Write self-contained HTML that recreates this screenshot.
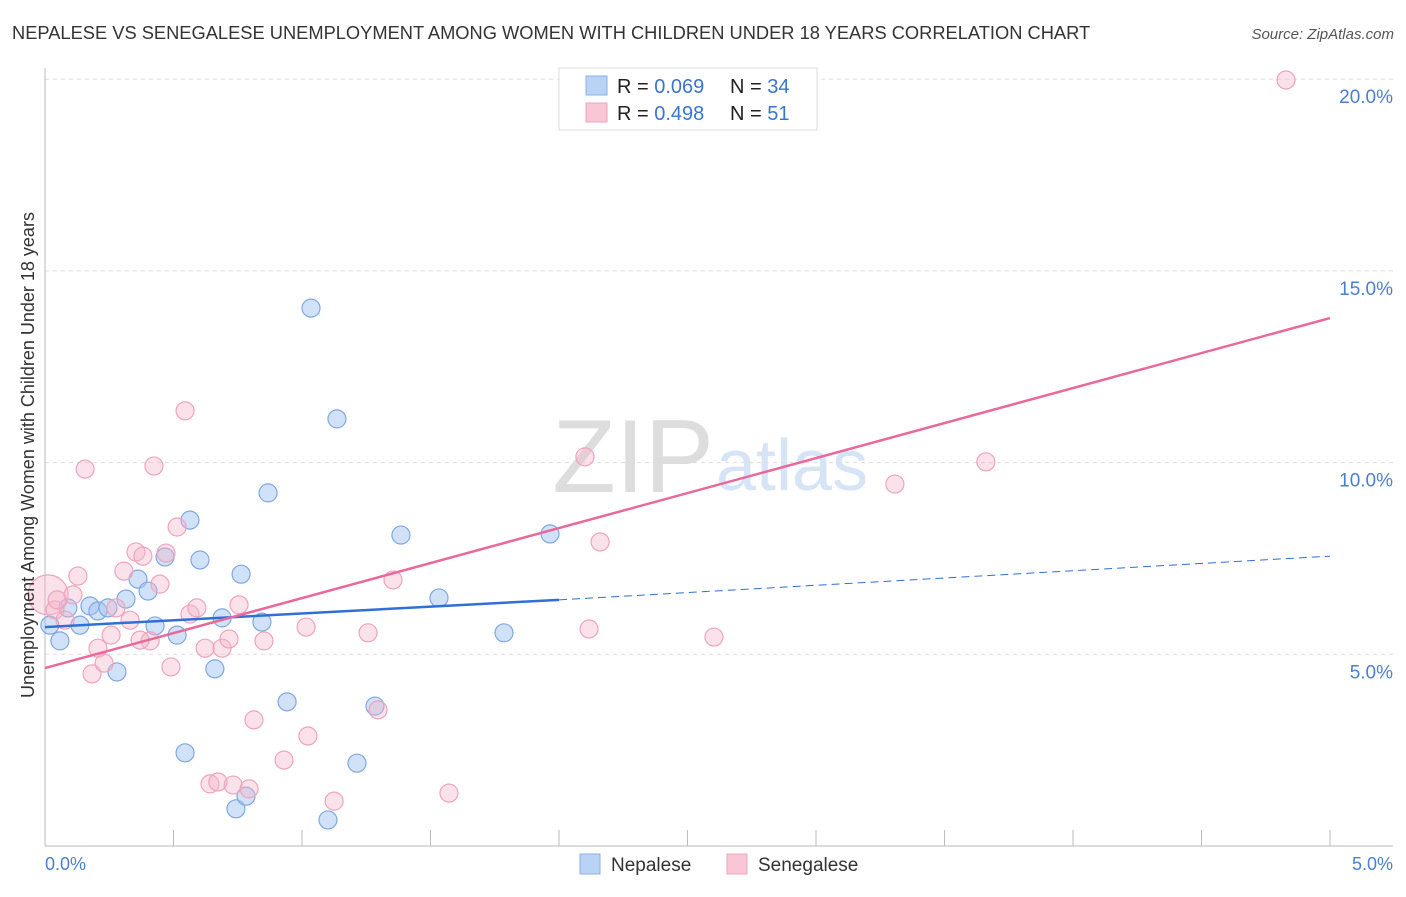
<!DOCTYPE html>
<html><head><meta charset="utf-8"><style>
body{margin:0;background:#fff;font-family:"Liberation Sans",sans-serif}
svg text{font-family:"Liberation Sans",sans-serif}
</style></head><body>
<svg id="chart" width="1406" height="892">
<text x="12" y="39" font-size="18.3" fill="#333">NEPALESE VS SENEGALESE UNEMPLOYMENT AMONG WOMEN WITH CHILDREN UNDER 18 YEARS CORRELATION CHART</text>
<text x="1394" y="39" font-size="15" fill="#555" font-style="italic" text-anchor="end">Source: ZipAtlas.com</text>
<text x="714" y="492" font-size="104" font-family="Liberation Serif,serif" fill="#ddd" text-anchor="end">ZIP</text>
<text x="716" y="490" font-size="72" fill="#d6e4f5">atlas</text>
<g id="grid"></g>
<g id="axes"></g>
<g id="marks"></g>
<text transform="translate(34,455) rotate(-90)" font-size="18" fill="#333" text-anchor="middle">Unemployment Among Women with Children Under 18 years</text>
<text x="45" y="870" font-size="18" fill="#4a7fd0">0.0%</text>
<text x="1393" y="870" font-size="18" fill="#4a7fd0" text-anchor="end">5.0%</text>
<g>
<rect x="559" y="68" width="258" height="62" fill="#fff" stroke="#ddd"/>
<rect x="586" y="76" width="21" height="19" fill="#b9d3f5" stroke="#8ab2e8"/>
<rect x="586" y="103" width="21" height="19" fill="#f9c6d6" stroke="#eca6bd"/>
<text x="617" y="93" font-size="20" fill="#222">R = <tspan fill="#3b74d0">0.069</tspan></text>
<text x="730" y="93" font-size="20" fill="#222">N = <tspan fill="#3b74d0">34</tspan></text>
<text x="617" y="120" font-size="20" fill="#222">R = <tspan fill="#3b74d0">0.498</tspan></text>
<text x="730" y="120" font-size="20" fill="#222">N = <tspan fill="#3b74d0"> 51</tspan></text>
</g>
<g>
<rect x="580" y="854" width="20" height="20" fill="#b9d3f5" stroke="#8ab2e8"/>
<text x="611" y="871" font-size="19" fill="#333">Nepalese</text>
<rect x="727" y="854" width="20" height="20" fill="#f9c6d6" stroke="#eca6bd"/>
<text x="758" y="871" font-size="19" fill="#333">Senegalese</text>
</g>
</svg>
<script>
const yTicks=[5,10,15,20];
const yTickLabels=["5.0%","10.0%","15.0%","20.0%"];
const blueX=[0.019,0.058,0.089,0.136,0.175,0.206,0.245,0.280,0.315,0.362,0.401,0.428,0.467,0.514,0.545,0.564,0.603,0.661,0.689,0.743,0.763,0.782,0.844,0.868,0.942,1.035,1.101,1.136,1.214,1.284,1.385,1.533,1.786,1.965];
const blueY=[5.76,5.35,6.21,5.76,6.26,6.13,6.21,4.54,6.44,6.96,6.65,5.74,7.54,5.50,2.43,8.50,7.46,4.62,5.95,0.97,7.09,1.30,5.84,9.21,3.76,14.03,0.68,11.14,2.16,3.65,8.11,6.47,5.56,8.14];
const pinkX=[0.012,0.039,0.078,0.109,0.128,0.156,0.183,0.206,0.230,0.257,0.276,0.307,0.331,0.354,0.381,0.409,0.424,0.447,0.471,0.490,0.514,0.545,0.564,0.591,0.623,0.642,0.673,0.689,0.716,0.732,0.755,0.794,0.813,0.852,0.930,1.016,1.023,1.125,1.257,1.296,1.354,1.572,2.101,2.117,2.160,2.603,3.307,3.661,4.829,0.047,0.370];
const pinkY=[6.55,6.16,5.89,6.55,7.04,9.83,4.49,5.16,4.77,5.50,6.21,7.17,5.89,7.67,7.56,5.35,9.91,6.83,7.64,4.67,8.32,11.35,6.05,6.21,5.16,1.62,1.67,5.16,5.40,1.59,6.29,1.49,3.29,5.35,2.24,5.71,2.87,1.17,5.56,3.55,6.94,1.38,10.15,5.66,7.93,5.45,9.44,10.02,19.98,6.42,5.37];
const blueTrend=[5.71,6.42,7.56];
const pinkTrend=[4.64,13.77];
const NS='http://www.w3.org/2000/svg';
const xs=v=>45+v/5*1285;
const ys=v=>846-v/5*191.7;
function mk(tag,attrs,parent){const e=document.createElementNS(NS,tag);for(const k in attrs)e.setAttribute(k,attrs[k]);parent.appendChild(e);return e;}
const grid=document.getElementById('grid'),axes=document.getElementById('axes'),marks=document.getElementById('marks');
yTicks.forEach((t,i)=>{
 const l=mk('line',{x1:45,x2:1393,y1:ys(t),y2:ys(t),stroke:'#ddd','stroke-dasharray':'4,4'},grid);
 
 
 const tx=mk('text',{x:1393,y:ys(t)+24,'font-size':19,fill:'#4a7fd0','text-anchor':'end'},axes);
 tx.textContent=yTickLabels[i];
 
 
});
const a1=mk('line',{x1:45,x2:45,y1:68,y2:846,stroke:'#bbb'},axes);


const a2=mk('line',{x1:45,x2:1393,y1:846,y2:846,stroke:'#bbb'},axes);


for(let i=0;i<=10;i++){const t=mk('line',{x1:xs(i*0.5),x2:xs(i*0.5),y1:830,y2:846,stroke:'#bbb'},axes);
 
 }
blueX.forEach((x,i)=>{const c=mk('circle',{cx:xs(x),cy:ys(blueY[i]),r:9,fill:'rgba(164,196,240,0.5)',stroke:'#7ea8e0','stroke-width':1.2},marks);
 
 });
pinkX.forEach((x,i)=>{const c=mk('circle',{cx:xs(x),cy:ys(pinkY[i]),r:i===0?20:9,fill:'rgba(245,180,202,0.4)',stroke:'#eda4bc','stroke-width':1.2},marks);
 
 });
const bl=mk('line',{x1:xs(0),y1:ys(blueTrend[0]),x2:xs(2.0),y2:ys(blueTrend[1]),stroke:'#2f6fd6','stroke-width':2.5},marks);


const bd=mk('line',{x1:xs(2.0),y1:ys(blueTrend[1]),x2:xs(5),y2:ys(blueTrend[2]),stroke:'#2f6fd6','stroke-width':1,'stroke-dasharray':'8,5'},marks);


const pl=mk('line',{x1:xs(0),y1:ys(pinkTrend[0]),x2:xs(5),y2:ys(pinkTrend[1]),stroke:'#e8699a','stroke-width':2.5},marks);


</script>
</body></html>
